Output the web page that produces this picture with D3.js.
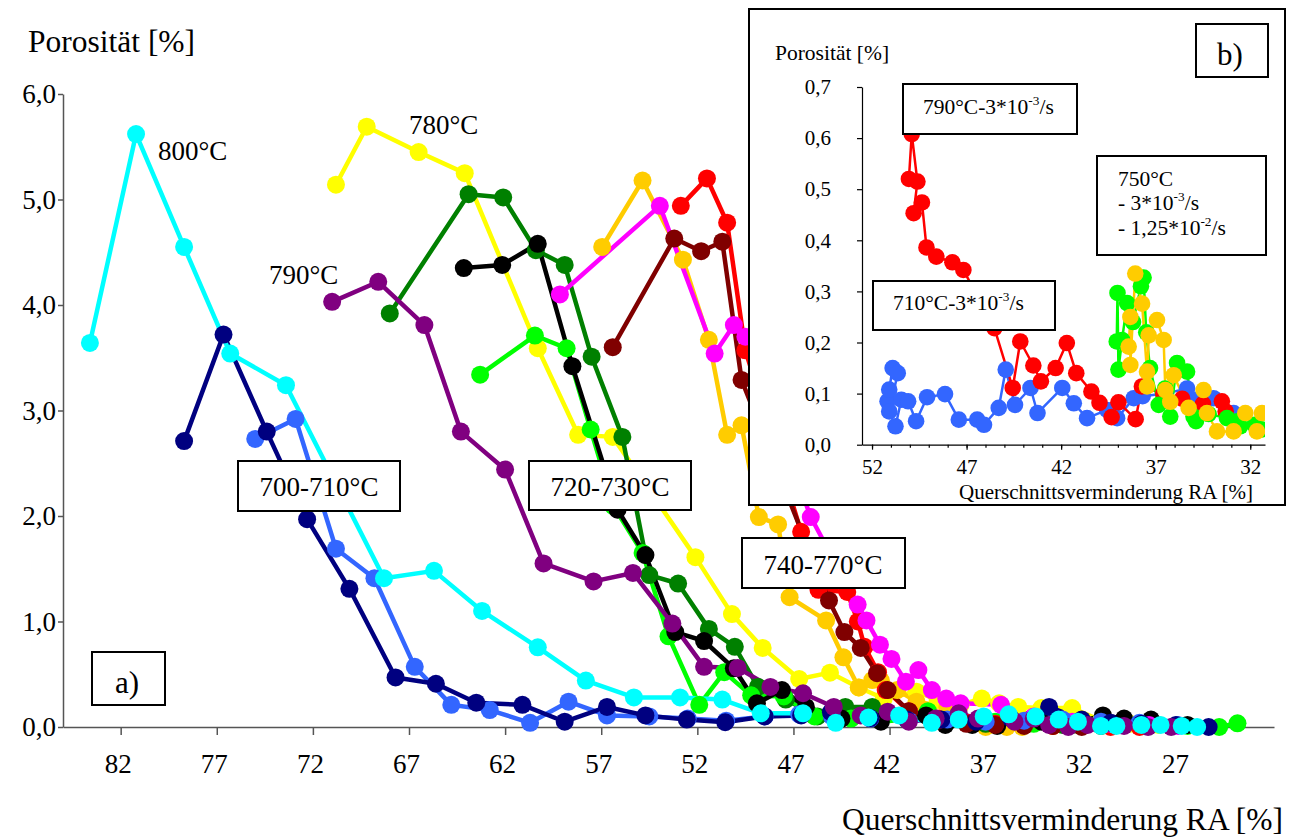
<!DOCTYPE html>
<html><head><meta charset="utf-8">
<script src="https://cdn.jsdelivr.net/npm/d3@7"></script>
<style>body{margin:0;background:#fff}svg{display:block}</style>
</head><body>
<svg id="c" width="1297" height="838"></svg>
<script>
// ---------------- DATA (main chart a) ----------------
const mainXTicks = [82,77,72,67,62,57,52,47,42,37,32,27];
const mainYTicks = [0,1,2,3,4,5,6];

const cyan800 = [[83.6,3.64],[81.2,5.62],[78.7,4.55],[76.3,3.54],[73.4,3.24],[68.3,1.41],[65.7,1.48],[63.2,1.10],[60.3,0.755],[57.8,0.44],[55.3,0.28],[52.9,0.28],[50.7,0.26],[48.7,0.13],[46.5,0.13],[44.8,0.04],[43.1,0.09],[41.5,0.11],[39.8,0.04],[38.4,0.07],[37.1,0.10],[35.8,0.12],[34.4,0.10],[33.2,0.07],[32.2,0.05],[31.0,0.01],[30.2,0.01],[28.9,0.02],[27.9,0.02],[26.8,0.01],[26.0,0.0]];
const navy700 = [[78.7,2.71],[76.65,3.72],[74.4,2.80],[72.3,1.97],[70.1,1.31],[67.7,0.47],[65.6,0.41],[63.5,0.23],[61.1,0.21],[58.9,0.05],[56.7,0.19],[54.7,0.11],[52.55,0.07],[50.55,0.045],[48.5,0.10],[46.6,0.11],[45.05,0.14],[43.0,0.085],[41.1,0.07],[39.3,0.07],[37.5,0.05],[35.7,0.085],[33.7,0.19],[32.0,0.07],[30.5,0.04],[28.9,0.03],[27.1,0.02],[25.4,0.0]];
const blue710 = [[75.0,2.73],[72.9,2.92],[70.8,1.69],[68.8,1.41],[66.7,0.57],[64.8,0.21],[62.8,0.16],[60.7,0.04],[58.7,0.24],[56.7,0.11],[54.5,0.10],[52.5,0.08],[50.5,0.06],[48.5,0.10],[46.7,0.12],[45.0,0.10],[43.0,0.08],[41.0,0.06],[39.0,0.07],[37.0,0.05],[35.0,0.06],[33.0,0.07],[31.0,0.05],[29.0,0.04],[27.0,0.02]];
const purple790 = [[71.0,4.03],[68.6,4.22],[66.2,3.81],[64.3,2.80],[62.0,2.44],[60.0,1.55],[57.4,1.38],[55.35,1.46],[53.3,0.98],[51.65,0.57],[49.9,0.56],[48.2,0.38],[46.5,0.32],[44.9,0.19],[43.5,0.11],[42.1,0.145],[41.0,0.05],[39.6,0.08],[38.4,0.13],[37.4,0.08],[35.5,0.05],[34.5,0.08],[33.7,0.02],[32.7,0.0],[31.7,0.02],[29.8,0.01],[28.55,0.0],[27.35,0.0]];
const yellow780 = [[70.8,5.14],[69.2,5.69],[66.5,5.45],[64.1,5.25],[60.3,3.59],[58.2,2.77],[56.4,2.75],[52.1,1.61],[50.2,1.07],[48.6,0.75],[46.7,0.455],[45.1,0.515],[43.6,0.375],[42.3,0.27],[40.6,0.335],[39.5,0.256],[38.3,0.21],[37.2,0.27],[36.3,0.225],[35.3,0.19],[34.1,0.18],[32.5,0.18],[31.0,0.06],[29.5,0.03],[28.0,0.02]];
const dkgreen725 = [[68.0,3.92],[63.9,5.05],[62.1,5.02],[60.4,4.52],[58.9,4.38],[57.5,3.51],[55.9,2.75],[54.5,1.44],[53.0,1.36],[51.4,0.93],[50.05,0.76],[48.85,0.38],[47.4,0.26],[45.75,0.10],[44.3,0.19],[42.9,0.19],[41.0,0.08],[39.0,0.05],[37.0,0.03],[35.0,0.02],[33.0,0.02],[31.0,0.01]];
const black725 = [[64.15,4.35],[62.15,4.38],[60.3,4.58],[58.5,3.42],[56.15,2.06],[54.7,1.63],[53.15,0.90],[51.65,0.815],[50.1,0.556],[48.9,0.225],[47.6,0.35],[46.35,0.19],[44.5,0.08],[42.45,0.05],[40.1,0.11],[39.1,0.02],[37.7,0.02],[36.4,0.01],[34.1,0.05],[32.5,0.03],[30.9,0.11],[29.8,0.08],[28.4,0.07],[26.5,0.02]];
const ltgreen725 = [[63.3,3.34],[60.45,3.71],[58.8,3.59],[57.55,2.82],[56.35,2.09],[54.85,1.65],[53.5,0.86],[51.9,0.21],[50.6,0.52],[49.2,0.30],[47.5,0.29],[45.9,0.10],[44.0,0.08],[42.0,0.12],[40.0,0.15],[38.5,0.10],[36.5,0.05],[34.5,0.03],[32.5,0.02],[30.5,0.01],[28.5,0.01],[26.5,0.01],[24.85,0.0],[23.9,0.035]];
const magenta755 = [[59.15,4.10],[53.95,4.94],[51.1,3.54],[50.1,3.81],[49.5,3.70],[46.1,1.99],[43.66,1.16],[43.2,1.01],[42.5,0.78],[41.9,0.645],[41.15,0.43],[40.5,0.54],[39.8,0.35],[39.05,0.27],[38.3,0.225],[36.2,0.21],[34.5,0.10],[32.5,0.05],[30.5,0.03],[28.5,0.02],[27.0,0.01]];
const gold755 = [[56.95,4.55],[54.85,5.18],[52.75,4.43],[51.4,3.67],[50.45,2.77],[49.7,2.86],[48.8,1.99],[47.8,1.92],[47.2,1.23],[45.3,1.01],[44.4,0.66],[43.6,0.375],[42.9,0.445],[42.45,0.44],[41.6,0.35],[40.6,0.24],[39.0,0.19],[37.0,0.0],[35.9,0.0],[35.1,0.0],[33.5,0.01],[32.0,0.02],[30.5,0.01]];
const red755 = [[52.86,4.94],[51.5,5.20],[50.45,4.78],[49.5,3.57],[46.6,1.85],[45.7,1.30],[44.2,1.28],[43.65,1.0],[43.3,0.76],[42.6,0.52],[42.2,0.35],[41.0,0.15],[39.5,0.08],[38.0,0.04],[36.5,0.03],[35.0,0.02],[33.5,0.01],[32.0,0.01],[30.5,0.0],[29.0,0.0]];
const maroon755 = [[56.4,3.60],[53.2,4.63],[51.8,4.51],[50.7,4.60],[49.7,3.29],[45.15,1.20],[44.35,0.90],[43.5,0.75],[42.65,0.51],[42.1,0.35],[41.0,0.15],[39.5,0.06],[38.0,0.03],[36.5,0.02],[35.0,0.01],[33.5,0.01],[32.0,0.0]];

// ---------------- DATA (inset b) ----------------
const insetXTicks = [52,47,42,37,32];
const insetXMinor = [52,51,50,49,48,47,46,45,44,43,42,41,40,39,38,37,36,35,34,33,32];
const insetYTicks = [0,0.1,0.2,0.3,0.4,0.5,0.6,0.7];

const inRed790 = [[50.05,0.52],[49.9,0.608],[49.6,0.515],[49.8,0.453],[49.36,0.474],[49.12,0.386],[48.6,0.368],[47.75,0.357],[47.17,0.342],[45.53,0.228],[44.56,0.111],[44.16,0.202],[43.47,0.155],[43.07,0.124],[42.29,0.15],[41.7,0.199],[41.2,0.14],[40.4,0.104],[39.97,0.082],[39.33,0.054],[38.97,0.083],[38.06,0.05],[37.73,0.114],[36.6,0.10],[35.6,0.09],[34.5,0.08],[33.5,0.085],[33.3,0.065]];
const inBlue710 = [[51.18,0.085],[51.09,0.108],[50.91,0.15],[50.64,0.14],[51.09,0.065],[50.76,0.036],[50.45,0.088],[50.09,0.085],[49.67,0.046],[49.09,0.093],[48.14,0.099],[47.41,0.049],[46.44,0.049],[46.08,0.039],[45.3,0.072],[44.93,0.147],[44.44,0.078],[43.62,0.111],[43.25,0.062],[41.94,0.111],[41.33,0.081],[40.63,0.052],[39.57,0.068],[39.04,0.052],[38.16,0.091],[37.69,0.095],[36.5,0.10],[35.34,0.11],[34.87,0.088],[33.94,0.091],[32.88,0.062]];
const inGreen750 = [[39.06,0.202],[39.02,0.297],[38.97,0.147],[38.78,0.205],[38.51,0.277],[38.2,0.24],[37.78,0.31],[37.64,0.327],[37.5,0.22],[37.3,0.15],[36.84,0.078],[36.5,0.11],[36.23,0.055],[35.87,0.16],[35.34,0.143],[35.0,0.055],[34.87,0.046],[34.2,0.06],[33.23,0.052],[32.68,0.046],[32.53,0.036],[31.77,0.039],[31.4,0.03]];
const inGold750 = [[38.43,0.192],[38.34,0.25],[38.34,0.156],[38.08,0.335],[37.72,0.276],[37.46,0.143],[37.46,0.114],[37.37,0.214],[36.93,0.244],[36.58,0.205],[36.49,0.107],[36.23,0.084],[36.05,0.136],[35.26,0.072],[34.47,0.107],[34.29,0.062],[33.76,0.026],[32.88,0.026],[32.26,0.062],[31.65,0.026],[31.38,0.062]];

// ---------------- STYLE ----------------
const FONT = "'Liberation Serif','Times New Roman',serif";
const mainSeries = [
  {data: yellow780, color: "#FFFF00"},
  {data: gold755, color: "#FFCC00"},
  {data: dkgreen725, color: "#008000"},
  {data: ltgreen725, color: "#00FF00"},
  {data: black725, color: "#000000"},
  {data: red755, color: "#FF0000"},
  {data: maroon755, color: "#800000"},
  {data: magenta755, color: "#FF00FF"},
  {data: blue710, color: "#3366FF"},
  {data: navy700, color: "#000080"},
  {data: purple790, color: "#800080"},
  {data: cyan800, color: "#00FFFF"}
];
const insetSeries = [
  {data: inBlue710, color: "#3366FF"},
  {data: inRed790, color: "#FF0000"},
  {data: inGreen750, color: "#00FF00"},
  {data: inGold750, color: "#FFCC00"}
];
const comma = d => d3.format(".1f")(d).replace(".", ",");

const svg = d3.select("#c");

// ---------------- MAIN CHART ----------------
const x = d3.scaleLinear().domain([85, 22]).range([63, 1274]);
const y = d3.scaleLinear().domain([0, 6]).range([727, 94]);

const xa = svg.append("g").attr("transform", "translate(0,727)")
  .call(d3.axisBottom(x).tickValues(mainXTicks).tickSize(8).tickSizeOuter(0).tickPadding(19).tickFormat(d3.format("d")));
xa.selectAll(".tick text").attr("dx", -3);
const ya = svg.append("g").attr("transform", "translate(63,0)")
  .call(d3.axisLeft(y).tickValues(mainYTicks).tickSize(5).tickSizeOuter(0).tickPadding(2).tickFormat(comma));
[xa, ya].forEach(a => {
  a.selectAll("path,line").attr("stroke", "#555").attr("stroke-width", 1.5);
  a.selectAll("text").attr("font-family", FONT).attr("font-size", 27).attr("fill", "#000");
});

const line = d3.line().x(d => x(d[0])).y(d => y(d[1]));
const gLines = svg.append("g"), gDots = svg.append("g");
mainSeries.forEach(s => {
  gLines.append("path").datum(s.data).attr("d", line)
    .attr("fill", "none").attr("stroke", s.color).attr("stroke-width", 4.5).attr("stroke-linejoin", "round");
});
mainSeries.forEach(s => {
  gDots.selectAll(null).data(s.data).enter().append("circle")
    .attr("cx", d => x(d[0])).attr("cy", d => y(d[1])).attr("r", 9).attr("fill", s.color);
});

// text labels main
function txt(g, t, px, py, size, anchor) {
  return g.append("text").attr("x", px).attr("y", py).attr("font-family", FONT)
    .attr("font-size", size).attr("text-anchor", anchor || "start").attr("fill", "#000").text(t);
}
txt(svg, "Porosität [%]", 28, 52, 31.5);
txt(svg, "Querschnittsverminderung RA [%]", 1283, 830, 31.5, "end");
txt(svg, "800°C", 158, 160, 27);
txt(svg, "790°C", 269, 284, 27);
txt(svg, "780°C", 409, 134, 27);

function box(g, x0, y0, x1, y1) {
  return g.append("rect").attr("x", x0).attr("y", y0).attr("width", x1 - x0).attr("height", y1 - y0)
    .attr("fill", "#fff").attr("stroke", "#000").attr("stroke-width", 2);
}
box(svg, 238, 461, 400, 511); txt(svg, "700-710°C", 319, 496, 27, "middle");
box(svg, 529, 461, 691, 510); txt(svg, "720-730°C", 610, 496, 27, "middle");
box(svg, 742, 538, 905, 588); txt(svg, "740-770°C", 823, 574, 27, "middle");
box(svg, 92, 652, 165, 705); txt(svg, "a)", 127, 693, 31, "middle");

// ---------------- INSET ----------------
const gi = svg.append("g");
box(gi, 749, 9, 1285, 505);
const ix = d3.scaleLinear().domain([52.53, 31.22]).range([862, 1265]);
const iy = d3.scaleLinear().domain([0, 0.7]).range([444.7, 87]);

const ixa = gi.append("g").attr("transform", "translate(0,444.7)")
  .call(d3.axisBottom(ix).tickValues(insetXTicks).tickSize(5).tickSizeOuter(0).tickPadding(9).tickFormat(d3.format("d")));
gi.append("g").attr("transform", "translate(0,444.7)")
  .call(d3.axisBottom(ix).tickValues(insetXMinor).tickSize(3).tickSizeOuter(0).tickFormat(""))
  .select(".domain").remove();
const iya = gi.append("g").attr("transform", "translate(862,0)")
  .call(d3.axisLeft(iy).tickValues(insetYTicks).tickSize(5).tickSizeOuter(0).tickPadding(26).tickFormat(comma));
gi.selectAll("path,line").attr("stroke", "#000").attr("stroke-width", 1.2);
[ixa, iya].forEach(a => a.selectAll("text").attr("font-family", FONT).attr("font-size", 21).attr("fill", "#000"));

gi.append("clipPath").attr("id", "iclip").append("rect").attr("x", 862).attr("y", 40).attr("width", 403).attr("height", 404.7);
const gip = gi.append("g").attr("clip-path", "url(#iclip)");
const iline = d3.line().x(d => ix(d[0])).y(d => iy(d[1]));
insetSeries.forEach(s => {
  gip.append("path").datum(s.data).attr("d", iline).attr("fill", "none")
    .attr("stroke", s.color).attr("stroke-width", 2.5).attr("stroke-linejoin", "round");
});
insetSeries.forEach(s => {
  gip.selectAll(null).data(s.data).enter().append("circle")
    .attr("cx", d => ix(d[0])).attr("cy", d => iy(d[1])).attr("r", 8.3).attr("fill", s.color);
});

txt(gi, "Porosität [%]", 775, 60, 21.5);
txt(gi, "Querschnittsverminderung RA [%]", 1106, 499, 21, "middle");
box(gi, 1196, 24, 1268, 77); txt(gi, "b)", 1230, 65, 31, "middle");

function supText(g, px, py, parts, size) {
  const t = g.append("text").attr("x", px).attr("y", py).attr("font-family", FONT).attr("font-size", size).attr("fill", "#000");
  parts.forEach(p => {
    if (p.sup) t.append("tspan").attr("font-size", size * 0.62).attr("dy", -size * 0.4).text(p.t);
    else t.append("tspan").attr("dy", p.after ? size * 0.4 : 0).text(p.t);
  });
  return t;
}
box(gi, 903, 84, 1077, 134);
supText(gi, 923, 114, [{t:"790°C-3*10"},{t:"-3",sup:true},{t:"/s",after:true}], 21.5);
box(gi, 873, 281, 1055, 330);
supText(gi, 893, 310, [{t:"710°C-3*10"},{t:"-3",sup:true},{t:"/s",after:true}], 21.5);
box(gi, 1097, 156, 1266, 255);
txt(gi, "750°C", 1118, 186, 21.5);
supText(gi, 1118, 210, [{t:"- 3*10"},{t:"-3",sup:true},{t:"/s",after:true}], 21.5);
supText(gi, 1118, 235, [{t:"- 1,25*10"},{t:"-2",sup:true},{t:"/s",after:true}], 21.5);
</script>
</body></html>
